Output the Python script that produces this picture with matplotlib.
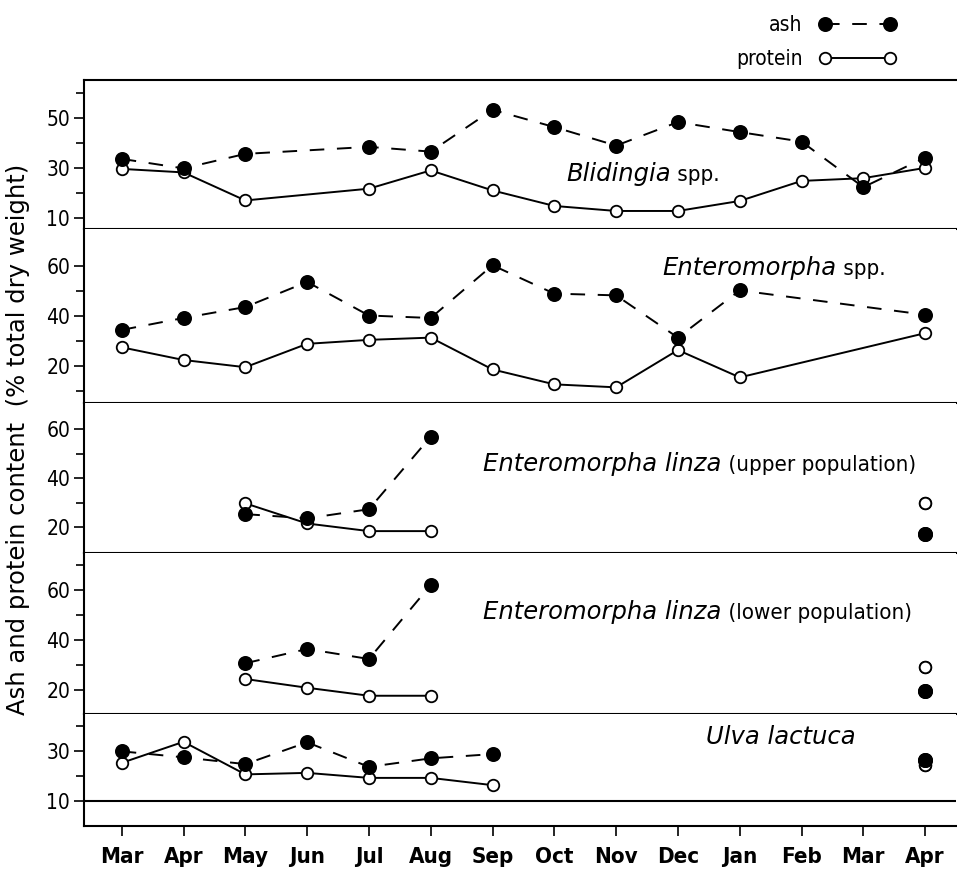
import numpy as np
import matplotlib
matplotlib.use("Agg")
import matplotlib.pyplot as plt
from matplotlib import font_manager as fm

nan = np.nan
months = ['Mar', 'Apr', 'May', 'Jun', 'Jul', 'Aug', 'Sep', 'Oct', 'Nov', 'Dec',
          'Jan', 'Feb', 'Mar', 'Apr']

blid_ash = [33.5, 29.7, 35.5, nan, 38.3, 36.4, 53.1, 46.2, 38.8, 48.2, 44.2, 40.4, 22.2, 34.0]
blid_prot = [29.5, 28.1, 16.9, nan, 21.6, 28.9, 20.9, 14.7, 12.7, 12.7, 16.7, 24.7, 25.8, 29.9]
ent_ash = [34.4, 39.2, 43.6, 53.7, 40.2, 39.2, 60.4, 49.0, 48.3, 31.3, 50.3, nan, nan, 40.5]
ent_prot = [27.4, 22.3, 19.4, 28.8, 30.4, 31.3, 18.5, 12.5, 11.3, 26.3, 15.3, nan, nan, 33.1]
upper_ash = [nan, nan, 25.4, 23.7, 27.4, 56.9, nan, nan, nan, nan, nan, nan, nan, 17.2]
upper_prot = [nan, nan, 29.8, 21.6, 18.5, 18.5, nan, nan, nan, nan, nan, nan, nan, 30.0]
lower_ash = [nan, nan, 30.7, 36.4, 32.4, 62.0, nan, nan, nan, nan, nan, nan, nan, 19.6]
lower_prot = [nan, nan, 24.4, 20.9, 17.7, 17.7, nan, nan, nan, nan, nan, nan, nan, 29.3]
ulva_ash = [29.8, 27.4, 24.7, 33.4, 23.6, 27.0, 28.7, nan, nan, nan, nan, nan, nan, 26.3]
ulva_prot = [25.2, 33.6, 20.6, 21.2, 19.2, 19.2, 16.3, nan, nan, nan, nan, nan, nan, 24.3]

titles_italic = ['Blidingia', 'Enteromorpha', 'Enteromorpha linza', 'Enteromorpha linza', 'Ulva lactuca']
titles_plain = [' spp.', ' spp.', ' (upper population)', ' (lower population)', '']


def has_font(name):
    try:
        fm.findfont(fm.FontProperties(family=name), fallback_to_default=False)
        return True
    except Exception:
        return False


if has_font('Liberation Sans Narrow'):
    COND = dict(family='Liberation Sans Narrow')
else:
    COND = dict(family='DejaVu Sans', stretch='condensed')

panels = [
    dict(ash=blid_ash, prot=blid_prot, bridge=True, ylim=(5.5, 65.0),
         major=[10, 30, 50], minor=[20, 40, 60], title=(7.19, 24.5)),
    dict(ash=ent_ash, prot=ent_prot, bridge=True, ylim=(5.0, 75.0),
         major=[20, 40, 60], minor=[10, 30, 50], title=(8.75, 56.6)),
    dict(ash=upper_ash, prot=upper_prot, bridge=False, ylim=(9.6, 70.6),
         major=[20, 40, 60], minor=[30, 50], title=(5.85, 42.9)),
    dict(ash=lower_ash, prot=lower_prot, bridge=False, ylim=(10.4, 74.8),
         major=[20, 40, 60], minor=[30, 50, 70], title=(5.85, 48.4)),
    dict(ash=ulva_ash, prot=ulva_prot, bridge=False, ylim=(0.0, 44.7),
         major=[10, 30], minor=[20, 40], title=(9.45, 32.6)),
]

fig = plt.figure(figsize=(9.57, 8.69), dpi=100)
gs = fig.add_gridspec(5, 1, height_ratios=[149, 174, 150, 161, 112], hspace=0,
                      left=84 / 957, right=0.999, top=1 - 80 / 869, bottom=1 - 826 / 869)

x = np.arange(len(months))
handles = None
for i, p in enumerate(panels):
    ax = fig.add_subplot(gs[i])
    hs = []
    for key, filled, ls in [('prot', False, '-'), ('ash', True, '--')]:
        y = np.array(p[key], dtype=float)
        if p['bridge']:
            m = ~np.isnan(y)
            xx, yy = x[m], y[m]
        else:
            xx, yy = x, y
        line, = ax.plot(xx, yy, color='black', lw=1.4, ls=ls,
                        marker='o', ms=9.5 if filled else 8.3,
                        mfc='black' if filled else 'white', mec='black', mew=1.3,
                        zorder=4 if filled else 3)
        if ls == '--':
            line.set_dashes((7.5, 6.5))
        if not p['bridge']:
            y_iso = np.where(np.isnan(np.r_[nan, y[:-1]]) & np.isnan(np.r_[y[1:], nan]), y, nan)
            ax.plot(x, y_iso, ls='none', marker='o', ms=9.5 if filled else 8.3,
                    mfc='black' if filled else 'white', mec='black', mew=1.3,
                    zorder=4 if filled else 3)
        hs.append(line)
    if i == 0:
        handles = hs
    ax.set_xlim(-0.61, 13.5)
    ax.set_ylim(*p['ylim'])
    ax.set_yticks(p['major'])
    ax.set_yticks(p['minor'], minor=True)
    ax.tick_params(axis='y', which='major', direction='out', length=7, width=1.2, pad=3)
    ax.tick_params(axis='y', which='minor', direction='out', length=6, width=1.2)
    for lab in ax.get_yticklabels():
        lab.set_fontproperties(fm.FontProperties(size=15, **COND))
    ax.spines['right'].set_visible(False)
    ax.spines['top'].set_visible(i == 0)
    for s in ['left', 'bottom', 'top']:
        ax.spines[s].set_linewidth(1.5)
    if i < 4:
        ax.tick_params(axis='x', bottom=False, labelbottom=False)
    else:
        ax.set_xticks(x)
        ax.set_xticklabels(months)
        ax.tick_params(axis='x', direction='out', length=7, width=1.2, pad=8)
        for lab in ax.get_xticklabels():
            lab.set_fontproperties(fm.FontProperties(size=16, weight='bold', **COND))
        ax.axhline(10, color='black', lw=1.5, zorder=1)
    tx, ty = p['title']
    t1 = ax.text(tx, ty, titles_italic[i], fontsize=17.5, style='italic',
                 family='DejaVu Sans', ha='left', va='baseline')
    if titles_plain[i]:
        ax.annotate(titles_plain[i], xy=(1, ty), xycoords=(t1, 'data'),
                    ha='left', va='baseline', fontproperties=fm.FontProperties(size=16, **COND))

fig.text(0.019, 0.494, 'Ash and protein content  (% total dry weight)', rotation=90,
         ha='center', va='center', fontsize=17.5, family='DejaVu Sans')

leg = fig.legend([handles[1], handles[0]], ['ash', 'protein'], loc='upper right',
                 bbox_to_anchor=(0.956, 1.004), frameon=False, numpoints=2,
                 markerfirst=False, handlelength=3.7, labelspacing=0.65,
                 prop=fm.FontProperties(size=15, **COND))

fig.savefig('out.png', dpi=100)
